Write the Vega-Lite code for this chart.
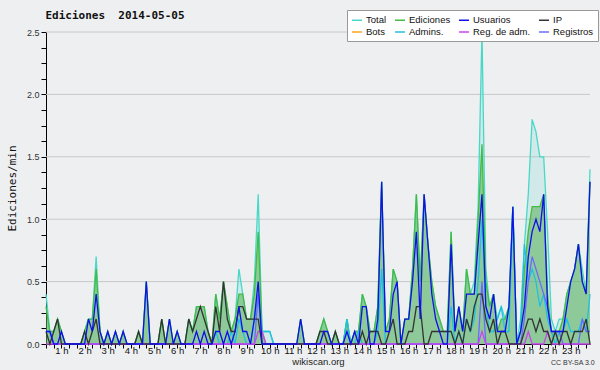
{
  "$schema": "https://vega.github.io/schema/vega-lite/v6.json",
  "width": 544,
  "height": 312,
  "autosize": {"type": "none"},
  "padding": {"left": 46, "top": 32, "right": 10, "bottom": 26},
  "background": "#eeeff1",
  "title": {"text": "Ediciones \u00a02014-05-05", "anchor": "start", "dx": 39, "dy": 21, "offset": 10, "font": "DejaVu Sans Mono", "fontSize": 11, "fontWeight": "bold", "color": "#111"},
  "config": {
    "view": {"stroke": null},
    "axis": {"zindex": 1},
    "axisX": {"titleFont": "Liberation Sans", "titleFontSize": 9.5, "titleFontWeight": "normal", "titleColor": "#222", "titlePadding": 2,
      "labelFont": "Liberation Sans", "labelFontSize": 9.5, "labelColor": "#111", "labelPadding": -3, "labelFlush": false, "labelOverlap": false,
      "tickSize": 4, "tickColor": "#000", "tickWidth": 1, "domainColor": "#000", "domainWidth": 1, "grid": false},
    "axisY": {"titleFont": "DejaVu Sans Mono", "titleFontSize": 11, "titleFontWeight": "normal", "titleColor": "#111", "titlePadding": 9,
      "labelFont": "Liberation Sans", "labelFontSize": 9, "labelColor": "#333", "labelPadding": 2, "labelOverlap": false,
      "tickSize": 5, "tickColor": "#000", "domainColor": "#000", "grid": false}
  },
  "datasets": {
    "grid": [{"g": 0.5}, {"g": 1}, {"g": 1.5}, {"g": 2}, {"g": 2.5}],
    "lic": [{"lic": "CC BY-SA 3.0"}]
  },
  "data": {"values": [
    {"m":20,"t":0.4,"e":0.3,"u":0.1,"ip":0.1,"a":0.1,"ra":0,"r":0.1},
    {"m":30,"t":0.1,"e":0.1,"u":0.1,"ip":0,"a":0.1,"ra":0,"r":0.1},
    {"m":40,"t":0.1,"e":0.1,"u":0,"ip":0.1,"a":0,"ra":0,"r":0},
    {"m":50,"t":0.2,"e":0.2,"u":0,"ip":0.2,"a":0,"ra":0,"r":0},
    {"m":60,"t":0.1,"e":0.1,"u":0.1,"ip":0,"a":0,"ra":0,"r":0},
    {"m":70,"t":0,"e":0,"u":0,"ip":0,"a":0,"ra":0,"r":0},
    {"m":80,"t":0,"e":0,"u":0,"ip":0,"a":0,"ra":0,"r":0},
    {"m":90,"t":0,"e":0,"u":0,"ip":0,"a":0,"ra":0,"r":0},
    {"m":100,"t":0,"e":0,"u":0,"ip":0,"a":0,"ra":0,"r":0},
    {"m":110,"t":0,"e":0,"u":0,"ip":0,"a":0,"ra":0,"r":0},
    {"m":120,"t":0.1,"e":0.1,"u":0,"ip":0.1,"a":0,"ra":0,"r":0},
    {"m":130,"t":0.2,"e":0.2,"u":0.2,"ip":0,"a":0,"ra":0,"r":0},
    {"m":140,"t":0.2,"e":0.2,"u":0.1,"ip":0.1,"a":0,"ra":0,"r":0},
    {"m":150,"t":0.7,"e":0.6,"u":0.4,"ip":0.2,"a":0,"ra":0,"r":0},
    {"m":160,"t":0.1,"e":0.1,"u":0.1,"ip":0,"a":0,"ra":0,"r":0},
    {"m":170,"t":0,"e":0,"u":0,"ip":0,"a":0,"ra":0,"r":0},
    {"m":180,"t":0.1,"e":0.1,"u":0.1,"ip":0,"a":0,"ra":0,"r":0},
    {"m":190,"t":0,"e":0,"u":0,"ip":0,"a":0,"ra":0,"r":0},
    {"m":200,"t":0.1,"e":0.1,"u":0.1,"ip":0,"a":0,"ra":0,"r":0},
    {"m":210,"t":0,"e":0,"u":0,"ip":0,"a":0,"ra":0,"r":0},
    {"m":220,"t":0.1,"e":0.1,"u":0.1,"ip":0,"a":0,"ra":0,"r":0},
    {"m":230,"t":0,"e":0,"u":0,"ip":0,"a":0,"ra":0,"r":0},
    {"m":240,"t":0,"e":0,"u":0,"ip":0,"a":0,"ra":0,"r":0},
    {"m":250,"t":0,"e":0,"u":0,"ip":0,"a":0,"ra":0,"r":0},
    {"m":260,"t":0.1,"e":0.1,"u":0,"ip":0.1,"a":0,"ra":0,"r":0},
    {"m":270,"t":0,"e":0,"u":0,"ip":0,"a":0,"ra":0,"r":0},
    {"m":280,"t":0.5,"e":0.5,"u":0.5,"ip":0,"a":0,"ra":0,"r":0},
    {"m":290,"t":0,"e":0,"u":0,"ip":0,"a":0,"ra":0,"r":0},
    {"m":300,"t":0,"e":0,"u":0,"ip":0,"a":0,"ra":0,"r":0},
    {"m":310,"t":0,"e":0,"u":0,"ip":0,"a":0,"ra":0,"r":0},
    {"m":320,"t":0.2,"e":0.2,"u":0,"ip":0.2,"a":0,"ra":0,"r":0},
    {"m":330,"t":0,"e":0,"u":0,"ip":0,"a":0,"ra":0,"r":0},
    {"m":340,"t":0.2,"e":0.2,"u":0.2,"ip":0,"a":0,"ra":0,"r":0},
    {"m":350,"t":0,"e":0,"u":0,"ip":0,"a":0,"ra":0,"r":0},
    {"m":360,"t":0.1,"e":0.1,"u":0.1,"ip":0,"a":0,"ra":0,"r":0},
    {"m":370,"t":0,"e":0,"u":0,"ip":0,"a":0,"ra":0,"r":0},
    {"m":380,"t":0,"e":0,"u":0,"ip":0,"a":0,"ra":0,"r":0},
    {"m":390,"t":0.2,"e":0.2,"u":0,"ip":0.2,"a":0,"ra":0,"r":0},
    {"m":400,"t":0.1,"e":0.1,"u":0,"ip":0.1,"a":0,"ra":0,"r":0},
    {"m":410,"t":0.3,"e":0.3,"u":0.1,"ip":0.2,"a":0,"ra":0,"r":0},
    {"m":420,"t":0.3,"e":0.3,"u":0,"ip":0.3,"a":0,"ra":0,"r":0},
    {"m":430,"t":0.3,"e":0.3,"u":0.1,"ip":0.2,"a":0,"ra":0,"r":0},
    {"m":440,"t":0.1,"e":0.1,"u":0,"ip":0.1,"a":0,"ra":0,"r":0},
    {"m":450,"t":0,"e":0,"u":0,"ip":0,"a":0,"ra":0,"r":0},
    {"m":460,"t":0.4,"e":0.4,"u":0.1,"ip":0.3,"a":0.1,"ra":0,"r":0},
    {"m":470,"t":0.2,"e":0.2,"u":0.1,"ip":0.1,"a":0,"ra":0,"r":0},
    {"m":480,"t":0.5,"e":0.5,"u":0,"ip":0.5,"a":0,"ra":0,"r":0},
    {"m":490,"t":0.3,"e":0.3,"u":0.1,"ip":0.2,"a":0,"ra":0,"r":0},
    {"m":500,"t":0.1,"e":0.1,"u":0,"ip":0.1,"a":0.1,"ra":0,"r":0},
    {"m":510,"t":0.2,"e":0.2,"u":0.1,"ip":0.1,"a":0,"ra":0,"r":0},
    {"m":520,"t":0.6,"e":0.4,"u":0.3,"ip":0.3,"a":0.2,"ra":0,"r":0},
    {"m":530,"t":0.4,"e":0.4,"u":0.1,"ip":0.3,"a":0.1,"ra":0,"r":0},
    {"m":540,"t":0.2,"e":0.2,"u":0.1,"ip":0.2,"a":0,"ra":0,"r":0},
    {"m":550,"t":0.2,"e":0.2,"u":0,"ip":0.2,"a":0,"ra":0,"r":0},
    {"m":560,"t":0.5,"e":0.4,"u":0.2,"ip":0.2,"a":0.2,"ra":0,"r":0},
    {"m":570,"t":1.2,"e":0.9,"u":0.5,"ip":0.2,"a":0.4,"ra":0.1,"r":0.4},
    {"m":580,"t":0.1,"e":0.1,"u":0,"ip":0,"a":0.1,"ra":0.1,"r":0},
    {"m":590,"t":0.1,"e":0,"u":0,"ip":0,"a":0.1,"ra":0,"r":0},
    {"m":600,"t":0.1,"e":0,"u":0,"ip":0,"a":0.1,"ra":0,"r":0},
    {"m":610,"t":0,"e":0,"u":0,"ip":0,"a":0,"ra":0,"r":0},
    {"m":620,"t":0,"e":0,"u":0,"ip":0,"a":0,"ra":0,"r":0},
    {"m":630,"t":0,"e":0,"u":0,"ip":0,"a":0,"ra":0,"r":0},
    {"m":640,"t":0,"e":0,"u":0,"ip":0,"a":0,"ra":0,"r":0},
    {"m":650,"t":0,"e":0,"u":0,"ip":0,"a":0,"ra":0,"r":0},
    {"m":660,"t":0,"e":0,"u":0,"ip":0,"a":0,"ra":0,"r":0},
    {"m":670,"t":0,"e":0,"u":0,"ip":0,"a":0,"ra":0,"r":0},
    {"m":680,"t":0.2,"e":0.2,"u":0.2,"ip":0,"a":0,"ra":0,"r":0},
    {"m":690,"t":0,"e":0,"u":0,"ip":0,"a":0,"ra":0,"r":0},
    {"m":700,"t":0,"e":0,"u":0,"ip":0,"a":0,"ra":0,"r":0},
    {"m":710,"t":0,"e":0,"u":0,"ip":0,"a":0,"ra":0,"r":0},
    {"m":720,"t":0,"e":0,"u":0,"ip":0,"a":0,"ra":0,"r":0},
    {"m":730,"t":0.1,"e":0.1,"u":0,"ip":0.1,"a":0,"ra":0,"r":0},
    {"m":740,"t":0.2,"e":0.2,"u":0.1,"ip":0.1,"a":0,"ra":0,"r":0},
    {"m":750,"t":0.1,"e":0.1,"u":0.1,"ip":0,"a":0,"ra":0,"r":0},
    {"m":760,"t":0,"e":0,"u":0,"ip":0,"a":0,"ra":0,"r":0},
    {"m":770,"t":0.1,"e":0.1,"u":0,"ip":0.1,"a":0,"ra":0,"r":0},
    {"m":780,"t":0,"e":0,"u":0,"ip":0,"a":0,"ra":0,"r":0},
    {"m":790,"t":0,"e":0,"u":0,"ip":0,"a":0,"ra":0,"r":0},
    {"m":800,"t":0.2,"e":0.2,"u":0.1,"ip":0,"a":0.2,"ra":0,"r":0},
    {"m":810,"t":0,"e":0,"u":0,"ip":0,"a":0,"ra":0,"r":0},
    {"m":820,"t":0.1,"e":0.1,"u":0.1,"ip":0,"a":0,"ra":0,"r":0},
    {"m":830,"t":0.1,"e":0.1,"u":0,"ip":0,"a":0.1,"ra":0,"r":0},
    {"m":840,"t":0.4,"e":0.4,"u":0.3,"ip":0.1,"a":0,"ra":0,"r":0},
    {"m":850,"t":0.3,"e":0.3,"u":0.3,"ip":0,"a":0,"ra":0,"r":0},
    {"m":860,"t":0.1,"e":0.1,"u":0,"ip":0.1,"a":0,"ra":0,"r":0},
    {"m":870,"t":0.1,"e":0.1,"u":0,"ip":0.1,"a":0,"ra":0,"r":0},
    {"m":880,"t":0.3,"e":0.3,"u":0.2,"ip":0.1,"a":0.1,"ra":0,"r":0},
    {"m":890,"t":1.3,"e":1.3,"u":1.3,"ip":0,"a":0.6,"ra":0,"r":0},
    {"m":900,"t":0.1,"e":0.1,"u":0.1,"ip":0,"a":0,"ra":0,"r":0},
    {"m":910,"t":0.2,"e":0.2,"u":0.1,"ip":0.1,"a":0,"ra":0,"r":0},
    {"m":920,"t":0.6,"e":0.6,"u":0.4,"ip":0.2,"a":0,"ra":0,"r":0},
    {"m":930,"t":0.5,"e":0.5,"u":0.5,"ip":0,"a":0,"ra":0,"r":0},
    {"m":940,"t":0,"e":0,"u":0,"ip":0,"a":0,"ra":0,"r":0},
    {"m":950,"t":0.2,"e":0.2,"u":0.2,"ip":0,"a":0,"ra":0,"r":0},
    {"m":960,"t":0.2,"e":0.2,"u":0.2,"ip":0.1,"a":0,"ra":0,"r":0},
    {"m":970,"t":0.6,"e":0.6,"u":0.5,"ip":0.1,"a":0,"ra":0,"r":0},
    {"m":980,"t":1.2,"e":1.2,"u":0.9,"ip":0.3,"a":0,"ra":0,"r":0},
    {"m":990,"t":0.5,"e":0.5,"u":0.2,"ip":0.3,"a":0,"ra":0,"r":0},
    {"m":1000,"t":1.2,"e":1.2,"u":1.2,"ip":0,"a":0,"ra":0,"r":0},
    {"m":1010,"t":0.8,"e":0.8,"u":0.8,"ip":0,"a":0,"ra":0,"r":0},
    {"m":1020,"t":0.5,"e":0.5,"u":0.4,"ip":0.1,"a":0,"ra":0,"r":0},
    {"m":1030,"t":0.3,"e":0.3,"u":0.2,"ip":0.1,"a":0,"ra":0,"r":0},
    {"m":1040,"t":0.2,"e":0.2,"u":0.1,"ip":0.1,"a":0,"ra":0,"r":0},
    {"m":1050,"t":0.1,"e":0.1,"u":0,"ip":0.1,"a":0,"ra":0,"r":0},
    {"m":1060,"t":0.1,"e":0.1,"u":0,"ip":0.1,"a":0,"ra":0,"r":0},
    {"m":1070,"t":0.9,"e":0.9,"u":0.8,"ip":0.1,"a":0.3,"ra":0,"r":0},
    {"m":1080,"t":0.1,"e":0.1,"u":0.1,"ip":0,"a":0,"ra":0,"r":0},
    {"m":1090,"t":0.3,"e":0.3,"u":0.3,"ip":0.1,"a":0.1,"ra":0,"r":0},
    {"m":1100,"t":0.1,"e":0.1,"u":0.1,"ip":0,"a":0,"ra":0,"r":0},
    {"m":1110,"t":0.6,"e":0.6,"u":0.4,"ip":0.2,"a":0.2,"ra":0,"r":0},
    {"m":1120,"t":0.4,"e":0.4,"u":0.4,"ip":0.1,"a":0.1,"ra":0,"r":0},
    {"m":1130,"t":0.5,"e":0.4,"u":0.4,"ip":0.3,"a":0.2,"ra":0,"r":0},
    {"m":1140,"t":1.1,"e":1.0,"u":0.8,"ip":0.4,"a":0.5,"ra":0,"r":0},
    {"m":1150,"t":2.5,"e":1.6,"u":1.2,"ip":0.4,"a":1.0,"ra":0.1,"r":0.5},
    {"m":1160,"t":0.6,"e":0.5,"u":0.3,"ip":0.2,"a":0.3,"ra":0,"r":0},
    {"m":1170,"t":0.3,"e":0.3,"u":0.2,"ip":0.1,"a":0.1,"ra":0,"r":0},
    {"m":1180,"t":0.4,"e":0.4,"u":0.4,"ip":0.2,"a":0.1,"ra":0,"r":0},
    {"m":1190,"t":0.2,"e":0.1,"u":0.1,"ip":0,"a":0.2,"ra":0,"r":0},
    {"m":1200,"t":0.3,"e":0.2,"u":0.1,"ip":0.1,"a":0.3,"ra":0,"r":0},
    {"m":1210,"t":0.2,"e":0.2,"u":0.1,"ip":0.1,"a":0.1,"ra":0,"r":0},
    {"m":1220,"t":0.3,"e":0.3,"u":0.3,"ip":0,"a":0.1,"ra":0,"r":0},
    {"m":1230,"t":1.1,"e":1.1,"u":1.1,"ip":0,"a":1.1,"ra":0,"r":0},
    {"m":1240,"t":0,"e":0,"u":0,"ip":0,"a":0,"ra":0,"r":0},
    {"m":1250,"t":0.2,"e":0.1,"u":0.1,"ip":0,"a":0.1,"ra":0,"r":0},
    {"m":1260,"t":0.8,"e":0.6,"u":0.3,"ip":0.1,"a":0.8,"ra":0,"r":0.2},
    {"m":1270,"t":1.2,"e":0.9,"u":0.7,"ip":0.2,"a":0.5,"ra":0.1,"r":0.5},
    {"m":1280,"t":1.8,"e":1.1,"u":0.9,"ip":0.2,"a":0.6,"ra":0,"r":0.7},
    {"m":1290,"t":1.7,"e":1.1,"u":1.0,"ip":0.1,"a":0.5,"ra":0,"r":0.6},
    {"m":1300,"t":1.5,"e":1.1,"u":0.9,"ip":0.2,"a":0.3,"ra":0,"r":0.5},
    {"m":1310,"t":1.5,"e":1.2,"u":1.2,"ip":0.1,"a":0.4,"ra":0,"r":0.4},
    {"m":1320,"t":0.9,"e":0.4,"u":0.3,"ip":0.1,"a":0.2,"ra":0.1,"r":0.3},
    {"m":1330,"t":0.2,"e":0.1,"u":0.1,"ip":0,"a":0.1,"ra":0,"r":0.1},
    {"m":1340,"t":0.1,"e":0.1,"u":0.1,"ip":0.1,"a":0,"ra":0,"r":0.1},
    {"m":1350,"t":0.2,"e":0.1,"u":0.1,"ip":0,"a":0.1,"ra":0,"r":0.1},
    {"m":1360,"t":0.2,"e":0.2,"u":0.1,"ip":0.1,"a":0.1,"ra":0,"r":0},
    {"m":1370,"t":0.4,"e":0.4,"u":0.3,"ip":0.1,"a":0.2,"ra":0,"r":0},
    {"m":1380,"t":0.5,"e":0.5,"u":0.5,"ip":0,"a":0.1,"ra":0,"r":0},
    {"m":1390,"t":0.6,"e":0.6,"u":0.6,"ip":0.1,"a":0.1,"ra":0,"r":0},
    {"m":1400,"t":0.8,"e":0.8,"u":0.8,"ip":0.1,"a":0.1,"ra":0,"r":0},
    {"m":1410,"t":0.6,"e":0.5,"u":0.5,"ip":0.1,"a":0.2,"ra":0,"r":0.2},
    {"m":1420,"t":0.4,"e":0.4,"u":0.4,"ip":0.2,"a":0.1,"ra":0,"r":0.1},
    {"m":1430,"t":1.4,"e":1.3,"u":1.3,"ip":0,"a":0.4,"ra":0,"r":0.1}
  ]},
  "layer": [
    {
      "data": {"name": "grid"},
      "mark": {"type": "rule", "color": "#c8c8c8", "strokeWidth": 1},
      "encoding": {
        "y": {"field": "g", "type": "quantitative", "title": "Ediciones/min", "scale": {"domain": [0, 2.5], "nice": false},
          "axis": {"values": [0,0.125,0.25,0.375,0.5,0.625,0.75,0.875,1,1.125,1.25,1.375,1.5,1.625,1.75,1.875,2,2.125,2.25,2.375,2.5],
            "labelExpr": "datum.value % 0.5 == 0 ? format(datum.value, '.1f') : ''"}}
      }
    },
    {
      "mark": {"type": "area", "color": "#40d0c0", "opacity": 0.16},
      "encoding": {
        "x": {"field": "m", "type": "quantitative", "title": "wikiscan.org", "scale": {"domain": [20, 1430], "nice": false, "zero": false},
          "axis": {"values": [20,40,60,80,100,120,140,160,180,200,220,240,260,280,300,320,340,360,380,400,420,440,460,480,500,520,540,560,580,600,620,640,660,680,700,720,740,760,780,800,820,840,860,880,900,920,940,960,980,1000,1020,1040,1060,1080,1100,1120,1140,1160,1180,1200,1220,1240,1260,1280,1300,1320,1340,1360,1380,1400,1420],
            "labelExpr": "datum.value % 60 == 0 ? (datum.value / 60) + ' h' : ''"}},
        "y": {"field": "t", "type": "quantitative", "title": "Ediciones/min",
          "axis": {"values": [0,0.125,0.25,0.375,0.5,0.625,0.75,0.875,1,1.125,1.25,1.375,1.5,1.625,1.75,1.875,2,2.125,2.25,2.375,2.5],
            "labelExpr": "datum.value % 0.5 == 0 ? format(datum.value, '.1f') : ''"}}
      }
    },
    {
      "mark": {"type": "area", "color": "#4caa4c", "opacity": 0.5},
      "encoding": {
        "x": {"field": "m", "type": "quantitative", "title": "wikiscan.org",
          "axis": {"values": [20,40,60,80,100,120,140,160,180,200,220,240,260,280,300,320,340,360,380,400,420,440,460,480,500,520,540,560,580,600,620,640,660,680,700,720,740,760,780,800,820,840,860,880,900,920,940,960,980,1000,1020,1040,1060,1080,1100,1120,1140,1160,1180,1200,1220,1240,1260,1280,1300,1320,1340,1360,1380,1400,1420],
            "labelExpr": "datum.value % 60 == 0 ? (datum.value / 60) + ' h' : ''"}},
        "y": {"field": "e", "type": "quantitative", "title": "Ediciones/min",
          "axis": {"values": [0,0.125,0.25,0.375,0.5,0.625,0.75,0.875,1,1.125,1.25,1.375,1.5,1.625,1.75,1.875,2,2.125,2.25,2.375,2.5],
            "labelExpr": "datum.value % 0.5 == 0 ? format(datum.value, '.1f') : ''"}}
      }
    },
    {
      "transform": [{"fold": ["t", "e", "a", "r", "ra", "ip", "u"], "as": ["serie", "v"]}],
      "mark": {"type": "line", "strokeWidth": 1.3},
      "encoding": {
        "x": {"field": "m", "type": "quantitative", "title": "wikiscan.org",
          "axis": {"values": [20,40,60,80,100,120,140,160,180,200,220,240,260,280,300,320,340,360,380,400,420,440,460,480,500,520,540,560,580,600,620,640,660,680,700,720,740,760,780,800,820,840,860,880,900,920,940,960,980,1000,1020,1040,1060,1080,1100,1120,1140,1160,1180,1200,1220,1240,1260,1280,1300,1320,1340,1360,1380,1400,1420],
            "labelExpr": "datum.value % 60 == 0 ? (datum.value / 60) + ' h' : ''"}},
        "y": {"field": "v", "type": "quantitative", "title": "Ediciones/min",
          "axis": {"values": [0,0.125,0.25,0.375,0.5,0.625,0.75,0.875,1,1.125,1.25,1.375,1.5,1.625,1.75,1.875,2,2.125,2.25,2.375,2.5],
            "labelExpr": "datum.value % 0.5 == 0 ? format(datum.value, '.1f') : ''"}},
        "color": {"field": "serie", "type": "nominal",
          "scale": {"domain": ["t", "e", "u", "ip", "bots", "a", "ra", "r"], "range": ["#48d8c8", "#44bb44", "#1010e8", "#333333", "#ffa520", "#22c0e0", "#cc44ee", "#6a6aff"]},
          "legend": {"orient": "none", "legendX": 301, "legendY": -22, "direction": "horizontal", "columns": 4, "columnPadding": 5, "rowPadding": 1, "padding": 4,
            "title": null, "fillColor": "#ffffff", "strokeColor": "#999999", "symbolType": "stroke", "symbolSize": 100, "symbolStrokeWidth": 1.5,
            "labelFont": "Liberation Sans", "labelFontSize": 9.5, "labelColor": "#111", "labelOffset": 3,
            "labelExpr": "{'t':'Total','e':'Ediciones','u':'Usuarios','ip':'IP','bots':'Bots','a':'Admins.','ra':'Reg. de adm.','r':'Registros'}[datum.label]"}}
      }
    },
    {
      "data": {"name": "lic"},
      "mark": {"type": "point", "opacity": 0},
      "encoding": {
        "shape": {"field": "lic", "type": "nominal",
          "legend": {"orient": "none", "legendX": 498, "legendY": 327, "title": null, "symbolOpacity": 0, "symbolSize": 1, "symbolStrokeWidth": 0, "labelOffset": 0, "padding": 0,
            "labelFont": "Liberation Sans", "labelFontSize": 7, "labelColor": "#333"}}
      }
    }
  ]
}
